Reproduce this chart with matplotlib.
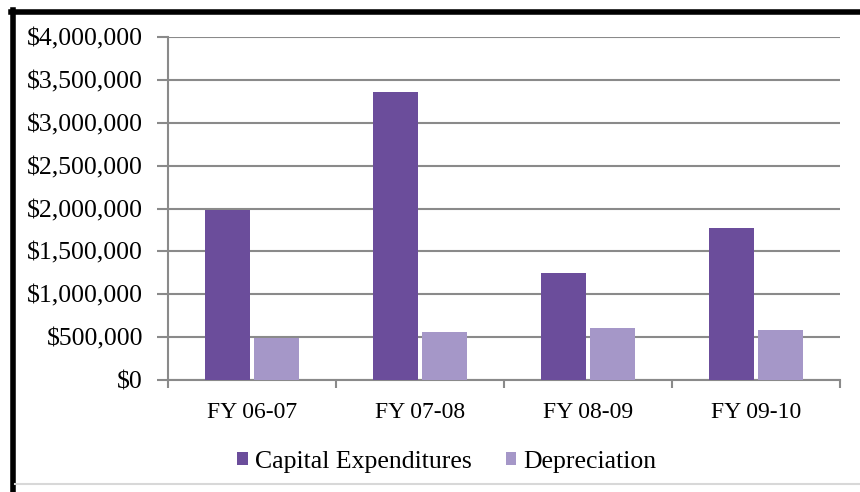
import matplotlib
matplotlib.use("Agg")
import matplotlib.pyplot as plt
from matplotlib.lines import Line2D
from matplotlib.patches import Patch
from matplotlib.ticker import FuncFormatter, MultipleLocator
import numpy as np

categories = ["FY 06-07", "FY 07-08", "FY 08-09", "FY 09-10"]
capital_expenditures = [1980000, 3360000, 1250000, 1775000]
depreciation = [495000, 565000, 605000, 585000]
series_names = ["Capital Expenditures", "Depreciation"]

capex_color = "#6B4D9B"
depr_color = "#A597C8"
grid_color = "#8A8A8A"
font = "Liberation Serif"

fig = plt.figure(figsize=(8.6, 4.92), dpi=100)
ax = fig.add_axes([168 / 860, 1 - 380 / 492, (840 - 168) / 860, (380 - 37) / 492])

x = np.arange(len(categories))
w = 0.268
off = 0.143
ax.bar(x - off, capital_expenditures, width=w, color=capex_color, zorder=3)
ax.bar(x + off, depreciation, width=w, color=depr_color, zorder=3)

ax.set_xlim(-0.5, len(categories) - 0.5)
ax.set_ylim(0, 4000000)
ax.yaxis.set_major_locator(MultipleLocator(500000))
ax.yaxis.set_major_formatter(FuncFormatter(lambda v, p: "${:,.0f}".format(v)))
ax.grid(axis="y", color=grid_color, linewidth=1.5, zorder=1)
ax.set_axisbelow(True)

# category labels sit between boundary ticks
ax.set_xticks(x)
ax.set_xticklabels(categories, fontfamily=font, fontsize=17)
ax.tick_params(axis="x", length=0, pad=16)
ax.set_xticks(np.arange(-0.5, len(categories), 1.0), minor=True)
ax.tick_params(axis="x", which="minor", length=6, width=1.5, color=grid_color)
ax.tick_params(axis="y", length=8, width=1.5, color=grid_color, pad=10)
for lab in ax.get_yticklabels():
    lab.set_fontfamily(font)
    lab.set_fontsize(18.5)

for s in ["top", "right"]:
    ax.spines[s].set_visible(False)
for s in ["left", "bottom"]:
    ax.spines[s].set_color(grid_color)
    ax.spines[s].set_linewidth(1.5)

handles = [Patch(facecolor=capex_color), Patch(facecolor=depr_color)]
fig.legend(handles, series_names, loc="center", bbox_to_anchor=(447 / 860, 1 - 462 / 492),
           ncol=2, frameon=False, prop={"family": font, "size": 18.5},
           handlelength=0.4, handleheight=0.4, handletextpad=0.3, columnspacing=1.3)

# chart frame
fig.add_artist(Line2D([13 / 860, 13 / 860], [0, 1 - 10 / 492], transform=fig.transFigure,
                      color="black", linewidth=4))
fig.add_artist(Line2D([11 / 860, 1], [1 - 12 / 492, 1 - 12 / 492], transform=fig.transFigure,
                      color="black", linewidth=4))
fig.add_artist(Line2D([15 / 860, 1], [1 - 484 / 492, 1 - 484 / 492], transform=fig.transFigure,
                      color="#D8D8D8", linewidth=1.5))

fig.savefig("out.png", dpi=100)
